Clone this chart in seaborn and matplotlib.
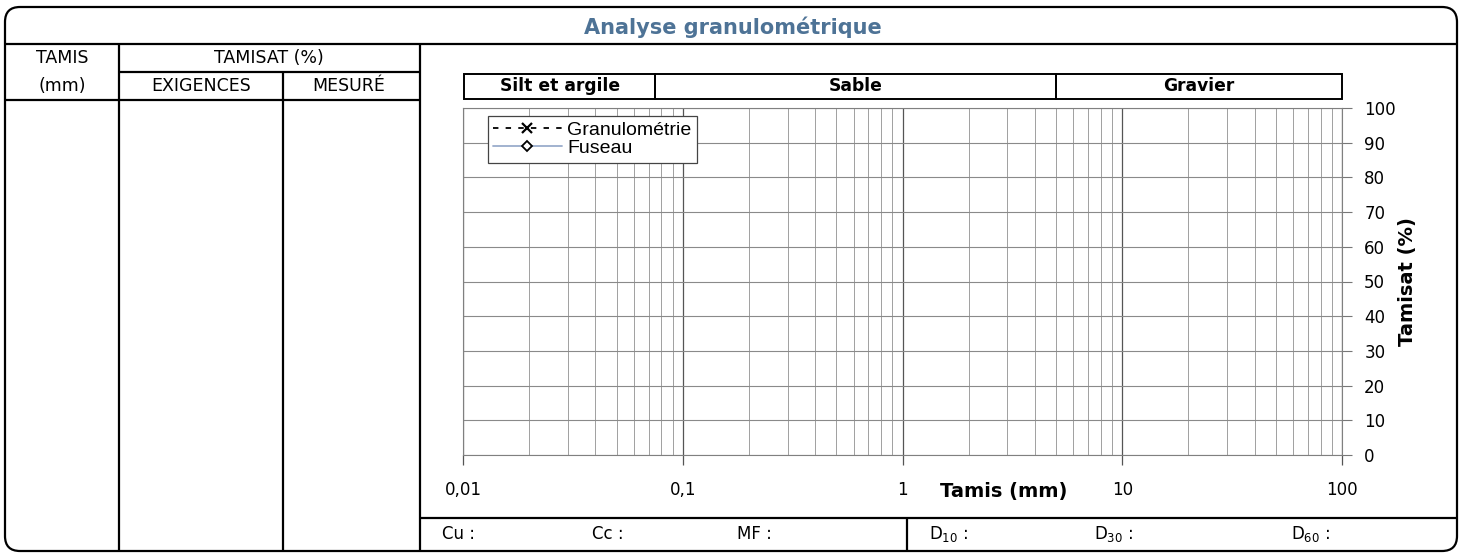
import numpy as np
import matplotlib
matplotlib.use("Agg")
import matplotlib.pyplot as plt
import seaborn as sns
from matplotlib.patches import FancyBboxPatch, Rectangle
from matplotlib.ticker import FixedLocator, LogLocator, NullFormatter

# ---------------- data ----------------
title_text = "Analyse granulométrique"
sieve_ticks = [0.01, 0.1, 1, 10, 100]
sieve_tick_labels = ["0,01", "0,1", "1", "10", "100"]
pct_ticks = [0, 10, 20, 30, 40, 50, 60, 70, 80, 90, 100]
zone_names = ["Silt et argile", "Sable", "Gravier"]
zone_bounds = [0.01, 0.075, 5, 100]
granulo_mm = []      # no measured points on the blank form
granulo_pct = []
fuseau_mm = []
fuseau_pct = []
series_labels = ["Granulométrie", "Fuseau"]
table_head_top = ["TAMIS", "TAMISAT (%)"]
table_head_bottom = ["(mm)", "EXIGENCES", "MESURÉ"]
footer_left = ["Cu :", "Cc :", "MF :"]
footer_right = ["D$_{10}$ :", "D$_{30}$ :", "D$_{60}$ :"]
x_label = "Tamis (mm)"
y_label = "Tamisat (%)"

# ---------------- style ----------------
sns.set_theme(style="white")
plt.rcParams["font.family"] = ["DejaVu Sans"]
plt.rcParams["text.color"] = "black"
plt.rcParams["xtick.color"] = "black"
plt.rcParams["ytick.color"] = "black"
plt.rcParams["axes.labelcolor"] = "black"

W, H = 1465, 554
fig = plt.figure(figsize=(W / 100, H / 100), dpi=100)
fig.patch.set_facecolor("white")

# background form in pixel coordinates
bg = fig.add_axes([0, 0, 1, 1], zorder=0)
bg.set_xlim(0, W)
bg.set_ylim(H, 0)
bg.axis("off")

lw = 1.6
bg.add_patch(FancyBboxPatch((5, 7), 1452, 544,
                            boxstyle="round,pad=0,rounding_size=15",
                            fill=False, ec="black", lw=lw))
segs = [
    ((5, 44), (1457, 44)),
    ((119, 72), (420, 72)),
    ((5, 100), (420, 100)),
    ((119, 44), (119, 551)),
    ((283, 72), (283, 551)),
    ((420, 44), (420, 551)),
    ((420, 518), (1457, 518)),
    ((907, 518), (907, 551)),
]
for (x0, y0), (x1, y1) in segs:
    bg.plot([x0, x1], [y0, y1], color="black", lw=lw, solid_capstyle="butt")

bg.text(733, 27, title_text, ha="center", va="center", fontsize=15,
        fontweight="bold", color="#4e7396")
fs_tab = 12.5
bg.text(62, 58, table_head_top[0], ha="center", va="center", fontsize=fs_tab)
bg.text(62, 86, table_head_bottom[0], ha="center", va="center", fontsize=fs_tab)
bg.text(269, 58, table_head_top[1], ha="center", va="center", fontsize=fs_tab)
bg.text(201, 86, table_head_bottom[1], ha="center", va="center", fontsize=fs_tab)
bg.text(349, 86, table_head_bottom[2], ha="center", va="center", fontsize=fs_tab)

for txt, xp in zip(footer_left, [442, 592, 737]):
    bg.text(xp, 534, txt, ha="left", va="center", fontsize=12)
for txt, xp in zip(footer_right, [929, 1094, 1291]):
    bg.text(xp, 534, txt, ha="left", va="center", fontsize=12)

# ---------------- chart ----------------
left, right = 463 / W, 1342 / W
bottom, top = 1 - 455 / H, 1 - 108 / H
ax = fig.add_axes([left, bottom, right - left, top - bottom], zorder=1)
ax.set_facecolor("none")
ax.set_xscale("log")
ax.set_xlim(sieve_ticks[0], sieve_ticks[-1])
ax.set_ylim(pct_ticks[0], pct_ticks[-1])

ax.xaxis.set_major_locator(FixedLocator(sieve_ticks))
ax.set_xticks(sieve_ticks)
ax.set_xticklabels(sieve_tick_labels)
ax.xaxis.set_minor_locator(LogLocator(base=10, subs=np.arange(2, 10)))
ax.xaxis.set_minor_formatter(NullFormatter())
ax.set_yticks(pct_ticks)
ax.yaxis.tick_right()

ax.grid(True, which="major", axis="x", color="#555555", lw=0.9)
ax.grid(True, which="minor", axis="x", color="#a0a0a0", lw=0.7)
ax.grid(True, which="major", axis="y", color="#8a8a8a", lw=0.8)

ax.tick_params(axis="x", which="major", direction="out", length=7, width=0.9,
               color="#555555", pad=12, labelsize=12, bottom=True)
ax.tick_params(axis="x", which="minor", length=0)
ax.tick_params(axis="y", which="major", direction="out", length=7, width=0.8,
               color="#777777", pad=9, labelsize=12, right=True, left=False,
               labelright=True, labelleft=False)
for s in ax.spines.values():
    s.set_color("#808080")
    s.set_linewidth(0.8)
    s.set_visible(True)

# empty series (blank form) - legend only
l1, = ax.plot(granulo_mm, granulo_pct, ls=(0, (3, 4)), color="black", lw=1.3,
              marker="x", ms=7, mew=1.6, label=series_labels[0])
l2, = ax.plot(fuseau_mm, fuseau_pct, ls="-", color="#9aaccc", lw=1.3,
              marker="D", ms=5, mfc="white", mec="black", mew=1.3,
              label=series_labels[1])
leg = ax.legend(handles=[l1, l2], loc="upper left", bbox_to_anchor=(0.028, 0.978),
                frameon=True, fancybox=False, labelspacing=0.0,
                handlelength=3.5, handletextpad=0.3, borderpad=0.3,
                borderaxespad=0.0, prop={"family": "Liberation Sans", "size": 14})
leg.get_frame().set_edgecolor("#444444")
leg.get_frame().set_linewidth(0.9)
leg.get_frame().set_facecolor("white")
leg.get_frame().set_alpha(1)

# zone header boxes above the plot
xtr = ax.get_xaxis_transform()
for name, a, b in zip(zone_names, zone_bounds[:-1], zone_bounds[1:]):
    a0 = a * 1.012 if a == zone_bounds[0] else a
    ax.add_patch(Rectangle((a0, 1.027), b - a0, 0.07, transform=xtr,
                           fill=False, ec="black", lw=1.4, clip_on=False))
    ax.text(np.sqrt(a0 * b), 1.062, name, transform=xtr, ha="center",
            va="center", fontsize=12.3, fontweight="bold")

# axis titles
ax.text(2.9, -0.105, x_label, transform=xtr, ha="center", va="center",
        fontsize=14, fontweight="bold")
ax.text(1.074, 0.5, y_label, transform=ax.transAxes, rotation=90,
        ha="center", va="center", fontsize=14, fontweight="bold")

fig.savefig("out.png", dpi=100, facecolor="white")
